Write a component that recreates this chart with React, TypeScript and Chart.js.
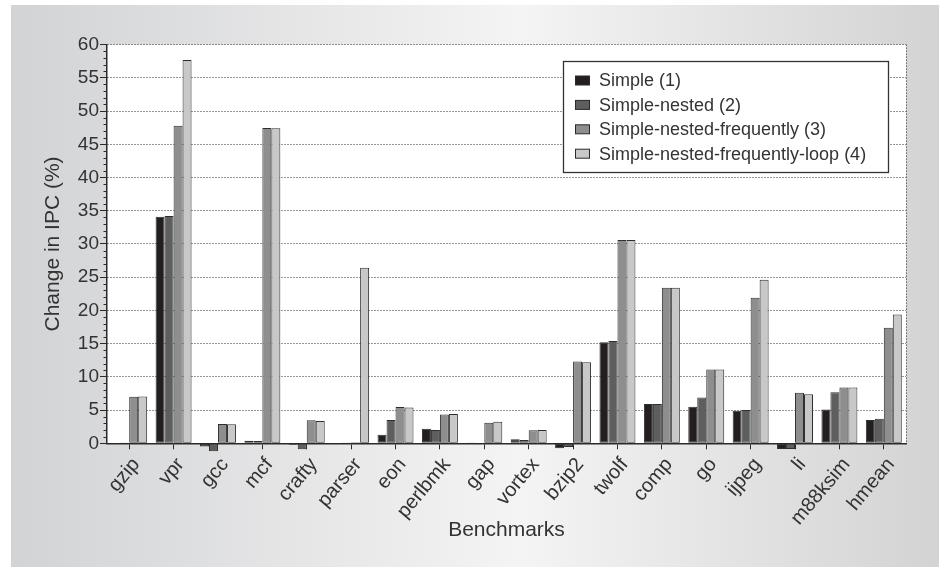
import React, { useEffect, useRef } from "react";
import { Chart, registerables } from "chart.js";

Chart.register(...registerables);

const categories = [
  "gzip", "vpr", "gcc", "mcf", "crafty", "parser", "eon", "perlbmk", "gap",
  "vortex", "bzip2", "twolf", "comp", "go", "ijpeg", "li", "m88ksim", "hmean",
];

const seriesNames = [
  "Simple (1)",
  "Simple-nested (2)",
  "Simple-nested-frequently (3)",
  "Simple-nested-frequently-loop (4)",
];

const simple = [-0.1, 34.1, -0.5, 0.4, -0.2, -0.05, 1.3, 2.2, 0.05, 0.6, -0.75, 15.2, 5.9, 5.5, 4.9, -0.85, 5.1, 3.5];
const simpleNested = [0.05, 34.2, -1.2, 0.35, -0.9, 0.05, 3.5, 2.0, 0.1, 0.5, -0.55, 15.4, 5.9, 6.9, 5.0, -0.85, 7.7, 3.7];
const simpleNestedFreq = [7.0, 47.8, 2.9, 47.45, 3.45, 0.15, 5.45, 4.35, 3.1, 1.95, 12.3, 30.6, 23.4, 11.1, 21.9, 7.6, 8.4, 17.4];
const simpleNestedFreqLoop = [7.05, 57.7, 2.85, 47.4, 3.35, 26.4, 5.4, 4.4, 3.25, 2.0, 12.2, 30.6, 23.4, 11.1, 24.6, 7.4, 8.4, 19.4];

const seriesColors = ["#231f20", "#5e5e5e", "#8e8e8e", "#c8c8c8"];

const yTickValues = [0, 5, 10, 15, 20, 25, 30, 35, 40, 45, 50, 55, 60];

const FONT = "'Liberation Sans', Arial, Helvetica, sans-serif";
const INK = "#2a2a2a";
const TEXT = "#333333";

const decorPlugin = {
  id: "decor",
  beforeDraw(chart: any) {
    const { ctx, width, height, chartArea } = chart;
    ctx.save();
    ctx.fillStyle = "#ffffff";
    ctx.fillRect(0, 0, width, height);
    const g = ctx.createLinearGradient(11, 0, width, 0);
    g.addColorStop(0, "#d2d3d5");
    g.addColorStop(0.55, "#f4f4f4");
    g.addColorStop(1, "#d3d3d4");
    ctx.fillStyle = g;
    ctx.fillRect(11, 5, width - 11, height - 5);
    ctx.fillStyle = "#ffffff";
    ctx.fillRect(chartArea.left, chartArea.top, chartArea.right - chartArea.left, chartArea.bottom - chartArea.top);
    ctx.restore();
  },
  afterDraw(chart: any) {
    const { ctx, chartArea } = chart;
    const y = chart.scales.y;
    ctx.save();
    // right dotted border
    ctx.strokeStyle = INK;
    ctx.lineWidth = 1;
    ctx.setLineDash([1, 2]);
    ctx.beginPath();
    ctx.moveTo(chartArea.right + 0.5, chartArea.top);
    ctx.lineTo(chartArea.right + 0.5, chartArea.bottom);
    ctx.stroke();
    ctx.setLineDash([]);
    // minor ticks
    ctx.lineWidth = 1;
    for (let v = 1; v < 60; v++) {
      if (v % 5 === 0) continue;
      const py = Math.round(y.getPixelForValue(v)) + 0.5;
      ctx.beginPath();
      ctx.moveTo(chartArea.left - 3.5, py);
      ctx.lineTo(chartArea.left, py);
      ctx.stroke();
    }
    // legend
    const bx = 563.5, by = 61.5, bw = 325, bh = 111;
    ctx.fillStyle = "#ffffff";
    ctx.fillRect(bx, by, bw, bh);
    ctx.strokeStyle = "#333333";
    ctx.lineWidth = 1.3;
    ctx.strokeRect(bx, by, bw, bh);
    ctx.font = `18px ${FONT}`;
    ctx.textBaseline = "middle";
    ctx.textAlign = "left";
    chart.data.datasets.forEach((ds: any, i: number) => {
      const cy = 80.5 + i * 24.4;
      ctx.fillStyle = ds.backgroundColor;
      ctx.fillRect(575.5, cy - 4.5, 14, 9);
      ctx.strokeStyle = "#2a2a2a";
      ctx.lineWidth = 1;
      ctx.strokeRect(575.5, cy - 4.5, 14, 9);
      ctx.fillStyle = TEXT;
      ctx.fillText(ds.label, 599, cy + 1);
    });
    ctx.restore();
  },
};

export default function App() {
  const ref = useRef<HTMLCanvasElement>(null);
  useEffect(() => {
    if (!ref.current) return;
    const seriesData = [simple, simpleNested, simpleNestedFreq, simpleNestedFreqLoop];
    const chart = new Chart(ref.current, {
      type: "bar",
      data: {
        labels: categories,
        datasets: seriesData.map((d, i) => ({
          label: seriesNames[i],
          data: d,
          backgroundColor: seriesColors[i],
          borderColor: "#2e2e2e",
          borderWidth: 1,
          borderSkipped: false,
          categoryPercentage: 0.81,
          barPercentage: 1.0,
          clip: false as any,
        })),
      },
      options: {
        animation: false,
        responsive: false,
        devicePixelRatio: 1,
        layout: { padding: { left: 0, top: 44.6, right: 33, bottom: 0 } },
        plugins: { legend: { display: false }, tooltip: { enabled: false } },
        scales: {
          x: {
            afterFit: (s: any) => { s.height = 567 - 443.3; },
            grid: { drawOnChartArea: false, offset: false, tickLength: 6, tickColor: INK, lineWidth: 1 },
            border: { color: INK, width: 1.5 },
            ticks: {
              autoSkip: false,
              minRotation: 50,
              maxRotation: 50,
              labelOffset: 7,
              padding: 4,
              color: TEXT,
              font: { family: FONT, size: 20 },
            },
            title: {
              display: true,
              text: "Benchmarks",
              color: TEXT,
              font: { family: FONT, size: 21, lineHeight: 1 },
              padding: { top: 0, bottom: 26 },
            },
          },
          y: {
            min: 0,
            max: 60,
            afterFit: (s: any) => { s.width = 107; },
            afterBuildTicks: (s: any) => { s.ticks = yTickValues.map((v) => ({ value: v })); },
            grid: {
              color: INK,
              lineWidth: 1,
              tickLength: 7,
              tickColor: INK,
              drawOnChartArea: true,
            },
            border: { color: INK, width: 1.5, dash: [1, 2] },
            ticks: {
              color: TEXT,
              padding: 1,
              font: { family: FONT, size: 19 },
            },
            title: {
              display: true,
              text: "Change in IPC (%)",
              color: TEXT,
              font: { family: FONT, size: 21, lineHeight: 1 },
              padding: { top: 43, bottom: 0 },
            },
          },
        },
      },
      plugins: [decorPlugin],
    });
    return () => chart.destroy();
  }, []);
  return (
    <div style={{ position: "absolute", left: 0, top: 0, width: 939, height: 567 }}>
      <canvas ref={ref} width={939} height={567} style={{ display: "block", width: 939, height: 567 }} />
    </div>
  );
}
